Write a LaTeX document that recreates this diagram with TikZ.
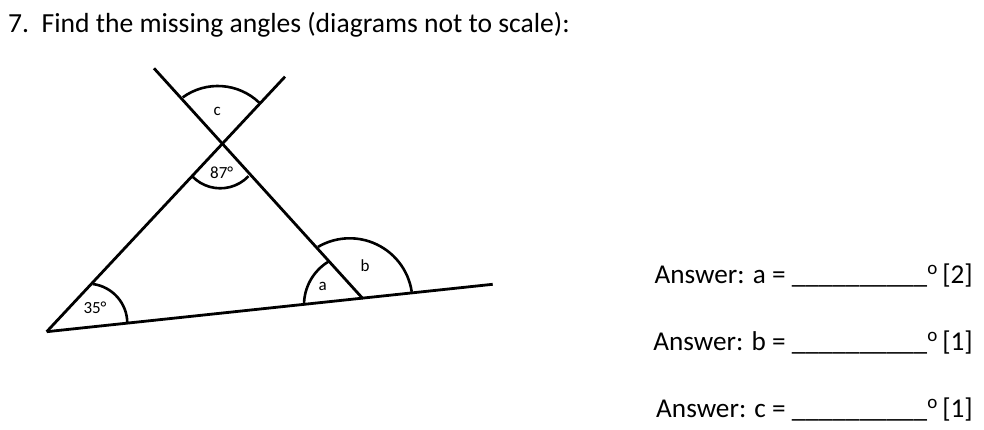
\documentclass[tikz,border=0pt]{standalone}
\usepackage{fontspec}
\setmainfont{Carlito}
\begin{document}
\begin{tikzpicture}[x=1pt,y=1pt,
  geo/.style={line width=2.8pt, black},
  arcline/.style={line width=2.6pt, black},
  lbl/.style={font=\fontsize{17}{20}\selectfont, inner sep=0pt},
  title/.style={font=\fontsize{27.6}{32}\selectfont, inner sep=0pt, anchor=base west},
  ans/.style={font=\fontsize{27.2}{31}\selectfont, inner sep=0pt, anchor=base east}]
\useasboundingbox (0,0) rectangle (984,430);
% vertices
\coordinate (A) at (46.7,98.3);
\coordinate (E) at (492.7,145.7);
\coordinate (X) at (222.2,285.8);
\coordinate (B) at (363,131.2);
\coordinate (U1) at (154,361.7);
\coordinate (U2) at (285,353.3);
% lines
\draw[geo] (A) -- (E);
\draw[geo] (A) -- (U2);
\draw[geo] (B) -- (U1);
% arcs
\draw[arcline] (87.7,106.7) ++(0:39.6) arc (0:82.7:39.6);
\draw[arcline] (220.3,280.6) ++(224.3:38.9) arc (224.3:316.5:38.9);
\draw[arcline] (217.8,284.2) ++(46.1:59.8) arc (46.1:125.9:59.8);
\draw[arcline] (354.7,125) ++(121.4:50.7) arc (121.4:180:50.7);
\draw[arcline] (349.7,129) ++(8.5:62.7) arc (8.5:120.4:62.7);
% labels
\node[lbl] (lc) at (217.3,318.3) {c};
\node[lbl] (l87) at (221.7,257.3) {87°};
\node[lbl] (l35) at (95,122.3) {35°};
\node[lbl] (la) at (322.7,143.3) {a};
\node[lbl] (lb) at (365,164) {b};
% texts
\node[title] (t) at (8,397) {7.\ \ Find the missing angles (diagrams not to scale):};
\node[ans] (qa) at (973,146) {Answer: a = \_\_\_\_\_\_\_\_\_\_\textsuperscript{o}\,[2]};
\node[ans] (qb) at (973,79) {Answer: b = \_\_\_\_\_\_\_\_\_\_\textsuperscript{o}\,[1]};
\node[ans] (qc) at (973,12) {Answer: c = \_\_\_\_\_\_\_\_\_\_\textsuperscript{o}\,[1]};
\end{tikzpicture}
\end{document}
